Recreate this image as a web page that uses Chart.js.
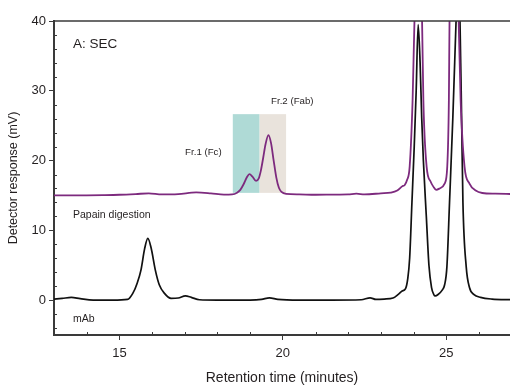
<!DOCTYPE html>
<html>
<head>
<meta charset="utf-8">
<script src="https://cdn.jsdelivr.net/npm/chart.js@4.4.0/dist/chart.umd.min.js"></script>
<style>
  body { margin: 0; background: #fff; overflow: hidden; }
  #wrap { width: 510px; height: 385px; }
</style>
</head>
<body>
<div id="wrap"><canvas id="sec" width="510" height="385"></canvas></div>
<script>
// retention time (min) / detector response (mV)
const mabTime = [13.0, 13.25, 13.53, 13.8, 14.2, 14.8, 15.25, 15.41, 15.55, 15.66, 15.77, 15.87, 15.97, 16.1, 16.22, 16.38, 16.58, 16.8, 17.02, 17.2, 17.45, 18.0, 19.0, 19.35, 19.59, 19.85, 20.5, 21.5, 22.4, 22.67, 22.85, 23.1, 23.37, 23.55, 23.65, 23.75, 23.82, 23.88, 23.95, 24.02, 24.08, 24.14, 24.2, 24.25, 24.3, 24.39, 24.47, 24.55, 24.62, 24.66, 24.75, 24.87, 24.95, 25.02, 25.1, 25.2, 25.3, 25.36, 25.42, 25.47, 25.51, 25.61, 25.71, 25.85, 26.05, 26.4, 27.0];
const mabSignal = [0.15, 0.25, 0.38, 0.2, 0.0, 0.0, 0.1, 0.96, 2.5, 4.3, 7.3, 8.84, 7.5, 4.3, 2.2, 0.96, 0.25, 0.3, 0.62, 0.4, 0.05, 0.0, 0.0, 0.1, 0.33, 0.1, 0.0, 0.0, 0.05, 0.33, 0.1, 0.15, 0.3, 0.9, 1.3, 1.6, 3, 6, 14, 22, 30, 39.5, 34, 26, 20, 12, 5, 1.8, 0.8, 0.6, 0.8, 1.4, 2.2, 4.8, 14, 26, 40, 48, 40, 26, 14, 4.8, 1.8, 0.8, 0.4, 0.15, 0.05];

const papainTime = [13.0, 13.5, 14.0, 14.5, 15.0, 15.5, 15.9, 16.3, 16.8, 17.35, 17.8, 18.2, 18.45, 18.6, 18.7, 18.8, 18.9, 18.98, 19.07, 19.18, 19.26, 19.33, 19.4, 19.47, 19.56, 19.64, 19.72, 19.8, 19.88, 19.96, 20.1, 20.5, 21.0, 21.5, 22.0, 22.25, 22.5, 23.0, 23.3, 23.5, 23.65, 23.73, 23.8, 23.88, 23.97, 24.03, 24.1, 24.16, 24.22, 24.26, 24.3, 24.4, 24.52, 24.6, 24.69, 24.8, 24.95, 25.03, 25.08, 25.1, 25.2, 25.3, 25.38, 25.44, 25.56, 25.71, 25.9, 26.1, 26.5, 27.0];
const papainSignal = [15.0, 15.0, 15.02, 15.05, 15.1, 15.2, 15.3, 15.15, 15.2, 15.43, 15.3, 15.12, 15.15, 15.4, 15.8, 16.6, 17.6, 18.05, 17.7, 17.1, 17.4, 18.6, 20.4, 22.3, 23.64, 22.5, 20.0, 17.6, 16.1, 15.5, 15.22, 15.15, 15.1, 15.12, 15.15, 15.25, 15.15, 15.3, 15.4, 15.7, 16.3, 16.5, 17.2, 19.1, 28.6, 40.5, 48, 50, 46, 40, 28.6, 19.1, 17.0, 16.3, 15.8, 16.0, 16.7, 19.1, 28.6, 40, 55, 58, 40, 28.6, 19.1, 16.7, 15.7, 15.35, 15.25, 15.2];

// collected fractions (min) and their band height (mV)
const fractionNames = ["Fr.1 (Fc)", "Fr.2 (Fab)"];
const fractionStart = [18.47, 19.29];
const fractionEnd = [19.29, 20.10];
const fractionLow = 15.37;
const fractionHigh = 26.65;

const xMajor = [15, 20, 25];
const yMajor = [0, 10, 20, 30, 40];

const FONT = "'Liberation Sans', Arial, sans-serif";
const INK = "#231f20";
const AXIS = "#3a3a3a";
const bandColors = ["#afdad6", "#e9e3dc"];

const toPoints = (xs, ys) => xs.map((x, i) => ({ x: x, y: ys[i] }));

const extras = {
  id: "secExtras",
  beforeDatasetsDraw(chart) {
    const { ctx, scales: { x, y } } = chart;
    ctx.save();
    fractionStart.forEach((s, i) => {
      const x0 = x.getPixelForValue(s);
      const x1 = x.getPixelForValue(fractionEnd[i]);
      const y0 = y.getPixelForValue(fractionHigh);
      const y1 = y.getPixelForValue(fractionLow);
      ctx.fillStyle = bandColors[i];
      ctx.fillRect(x0, y0, x1 - x0, y1 - y0);
    });
    ctx.restore();
  },
  afterDraw(chart) {
    const { ctx, chartArea: a, scales: { x, y } } = chart;
    ctx.save();
    // top frame line
    ctx.strokeStyle = AXIS;
    ctx.lineWidth = 1.5;
    ctx.beginPath();
    ctx.moveTo(a.left, a.top);
    ctx.lineTo(a.right, a.top);
    ctx.stroke();
    // minor ticks pointing into the plot
    ctx.lineWidth = 1;
    ctx.beginPath();
    x.ticks.forEach(t => {
      if (xMajor.includes(t.value)) return;
      const px = Math.round(x.getPixelForValue(t.value)) + 0.5;
      ctx.moveTo(px, a.bottom);
      ctx.lineTo(px, a.bottom - 3);
    });
    y.ticks.forEach(t => {
      if (yMajor.includes(t.value)) return;
      const py = Math.round(y.getPixelForValue(t.value)) + 0.5;
      ctx.moveTo(a.left, py);
      ctx.lineTo(a.left + 3, py);
    });
    ctx.stroke();

    // labels
    ctx.fillStyle = INK;
    ctx.textBaseline = "alphabetic";
    ctx.textAlign = "left";
    ctx.font = "13.5px " + FONT;
    ctx.fillText("A: SEC", x.getPixelForValue(13.58), y.getPixelForValue(36.06));
    ctx.font = "10.5px " + FONT;
    ctx.fillText("Papain digestion", x.getPixelForValue(13.58), y.getPixelForValue(11.7));
    ctx.fillText("mAb", x.getPixelForValue(13.58), y.getPixelForValue(-3.15));
    ctx.font = "9.7px " + FONT;
    ctx.fillText(fractionNames[0], x.getPixelForValue(17.01), y.getPixelForValue(20.77));
    ctx.fillText(fractionNames[1], x.getPixelForValue(19.64), y.getPixelForValue(28.08));
    ctx.restore();
  }
};

new Chart(document.getElementById("sec"), {
  type: "line",
  data: {
    datasets: [
      {
        label: "Papain digestion",
        data: toPoints(papainTime, papainSignal),
        borderColor: "#7d2a7e",
        borderWidth: 1.8,
        pointRadius: 0,
        cubicInterpolationMode: "monotone",
        clip: 0
      },
      {
        label: "mAb",
        data: toPoints(mabTime, mabSignal),
        borderColor: "#111",
        borderWidth: 1.7,
        pointRadius: 0,
        cubicInterpolationMode: "monotone",
        clip: 0
      }
    ]
  },
  options: {
    responsive: false,
    animation: false,
    devicePixelRatio: 1,
    layout: { padding: { top: 21, right: 0, left: 0, bottom: 0 } },
    plugins: { legend: { display: false }, tooltip: { enabled: false } },
    scales: {
      x: {
        type: "linear",
        min: 13,
        max: 26.95,
        afterFit(scale) { scale.height = 50; },
        ticks: {
          stepSize: 1,
          includeBounds: false,
          autoSkip: false,
          maxRotation: 0,
          padding: 6,
          color: INK,
          font: { family: FONT, size: 13 },
          callback: v => (xMajor.includes(v) ? String(v) : "")
        },
        grid: {
          drawOnChartArea: false,
          drawTicks: true,
          tickLength: 5,
          lineWidth: 1,
          color: c => (c.tick && xMajor.includes(c.tick.value) ? AXIS : "rgba(0,0,0,0)")
        },
        border: { display: true, color: AXIS, width: 2 },
        title: {
          display: true,
          text: "Retention time (minutes)",
          color: INK,
          font: { family: FONT, size: 14, lineHeight: 1 },
          padding: { top: 0, bottom: 0 }
        }
      },
      y: {
        type: "linear",
        min: -5,
        max: 40,
        afterFit(scale) { scale.width = 54; },
        ticks: {
          stepSize: 2,
          includeBounds: false,
          autoSkip: false,
          padding: 3,
          color: INK,
          font: { family: FONT, size: 13 },
          callback: v => (yMajor.includes(v) ? String(v) : "")
        },
        grid: {
          drawOnChartArea: false,
          drawTicks: true,
          tickLength: 5,
          lineWidth: 1,
          color: c => (c.tick && yMajor.includes(c.tick.value) ? AXIS : "rgba(0,0,0,0)")
        },
        border: { display: true, color: AXIS, width: 2 },
        title: {
          display: true,
          text: "Detector response (mV)",
          color: INK,
          font: { family: FONT, size: 12.5, lineHeight: 1.2 },
          padding: { top: 6.5, bottom: 0 }
        }
      }
    }
  },
  plugins: [extras]
});
</script>
</body>
</html>
